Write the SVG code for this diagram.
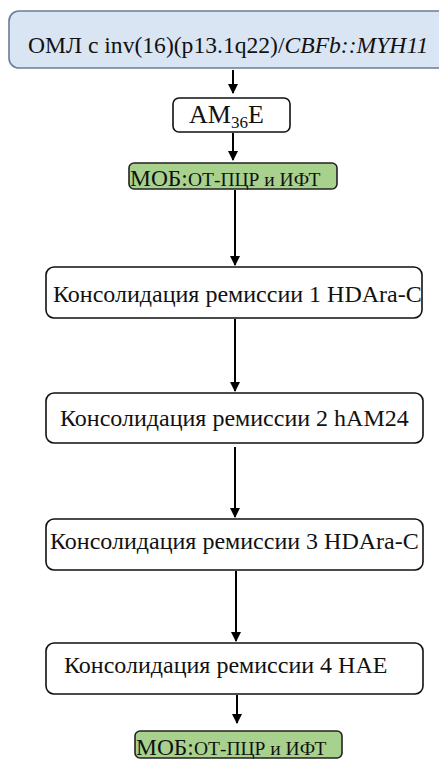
<svg xmlns="http://www.w3.org/2000/svg" width="439" height="760" viewBox="0 0 439 760">
<style>
.t{font-family:'Liberation Serif','Times New Roman',serif;fill:#111}
.box{fill:#fff;stroke:#111;stroke-width:1.6}
.grn{fill:#a9d18e;stroke:#222;stroke-width:1.6}
.top{fill:#dae5f3;stroke:#6a7c96;stroke-width:1.6}
.c{stroke:#000;stroke-width:2;fill:none}
</style>
<defs>
<marker id="a" viewBox="0 0 10 10" refX="9" refY="5" markerWidth="10" markerHeight="10" orient="auto" markerUnits="userSpaceOnUse"><path d="M0,0 L10,5 L0,10 Z" fill="#000"/></marker>
</defs>
<g id="connectors">
<line class="c" x1="233" y1="70" x2="233" y2="93" marker-end="url(#a)"/>
<line class="c" x1="233" y1="133" x2="233" y2="160" marker-end="url(#a)"/>
<line class="c" x1="235" y1="190" x2="235" y2="265" marker-end="url(#a)"/>
<line class="c" x1="235" y1="319" x2="235" y2="391" marker-end="url(#a)"/>
<line class="c" x1="235" y1="447" x2="235" y2="517" marker-end="url(#a)"/>
<line class="c" x1="236" y1="571" x2="236" y2="641" marker-end="url(#a)"/>
<line class="c" x1="237" y1="695" x2="237" y2="723" marker-end="url(#a)"/>
</g>
<g id="n0">
<rect class="top" x="9" y="11" width="445" height="57" rx="10"/>
<text class="t" x="28" y="53" style="font-size:23.6px">ОМЛ с inv(16)(p13.1q22)/<tspan font-style="italic">CBFb::MYH11</tspan></text>
</g>
<g id="n1">
<rect class="box" x="173" y="98" width="117" height="34" rx="6"/>
<text class="t" x="189" y="123" style="font-size:26px">AM<tspan style="font-size:17px" dy="5">36</tspan><tspan dy="-5">E</tspan></text>
</g>
<g id="n2">
<rect class="grn" x="129" y="163" width="208" height="26" rx="5"/>
<text class="t" x="130" y="186" style="font-size:23.5px">МОБ:<tspan style="font-size:19.5px">ОТ-ПЦР и ИФТ</tspan></text>
</g>
<g id="n3">
<rect class="box" x="46" y="267" width="376" height="51" rx="8"/>
<text class="t" x="53" y="302" style="font-size:24px">Консолидация ремиссии 1 HDAra-C</text>
</g>
<g id="n4">
<rect class="box" x="46" y="393" width="377" height="50" rx="8"/>
<text class="t" x="60" y="426" style="font-size:24px">Консолидация ремиссии 2 hAM24</text>
</g>
<g id="n5">
<rect class="box" x="46" y="519" width="377" height="51" rx="8"/>
<text class="t" x="50" y="549" style="font-size:24px">Консолидация ремиссии 3 HDAra-C</text>
</g>
<g id="n6">
<rect class="box" x="46" y="643" width="377" height="51" rx="8"/>
<text class="t" x="64" y="673" style="font-size:24px">Консолидация ремиссии 4 HAE</text>
</g>
<g id="n7">
<rect class="grn" x="135" y="731" width="207" height="27" rx="5"/>
<text class="t" x="136" y="755" style="font-size:23.5px">МОБ:<tspan style="font-size:19.5px">ОТ-ПЦР и ИФТ</tspan></text>
</g>
</svg>
